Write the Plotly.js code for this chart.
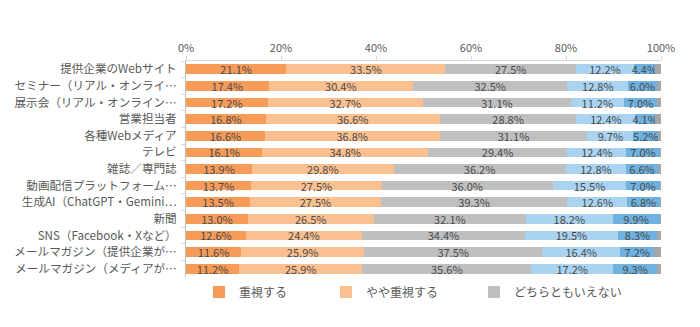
<!DOCTYPE html>
<html>
<head>
<meta charset="utf-8">
<script src="https://cdn.plot.ly/plotly-3.0.1.min.js"></script>
<style>html,body{margin:0;padding:0;background:#fff;}#chart{width:700px;height:327px;}</style>
</head>
<body>
<div id="chart"></div>
<script>
const categories = [
  "提供企業のWebサイト",
  "セミナー（リアル・オンライ…",
  "展示会（リアル・オンライン…",
  "営業担当者",
  "各種Webメディア",
  "テレビ",
  "雑誌／専門誌",
  "動画配信プラットフォーム…",
  "生成AI（ChatGPT・Gemini…",
  "新聞",
  "SNS（Facebook・Xなど）",
  "メールマガジン（提供企業が…",
  "メールマガジン（メディアが…"
];
const seriesNames = ["重視する", "やや重視する", "どちらともいえない", "あまり重視しない", "重視しない", "その他"];
const juushi      = [21.1, 17.4, 17.2, 16.8, 16.6, 16.1, 13.9, 13.7, 13.5, 13.0, 12.6, 11.6, 11.2];
const yayaJuushi  = [33.5, 30.4, 32.7, 36.6, 36.8, 34.8, 29.8, 27.5, 27.5, 26.5, 24.4, 25.9, 25.9];
const dochiramo   = [27.5, 32.5, 31.1, 28.8, 31.1, 29.4, 36.2, 36.0, 39.3, 32.1, 34.4, 37.5, 35.6];
const amari       = [12.2, 12.8, 11.2, 12.4, 9.7, 12.4, 12.8, 15.5, 12.6, 18.2, 19.5, 16.4, 17.2];
const juushiShinai= [4.4, 6.0, 7.0, 4.1, 5.2, 7.0, 6.6, 7.0, 6.8, 9.9, 8.3, 7.2, 9.3];
const sonota      = [1.3, 0.9, 0.8, 1.3, 0.6, 0.3, 0.7, 0.3, 0.3, 0.3, 0.8, 1.4, 0.8];
const tickVals = [0, 20, 40, 60, 80, 100];
const tickText = ["0%", "20%", "40%", "60%", "80%", "100%"];

const colors = ["#F79B59", "#FAC090", "#BFBFBF", "#A9D3F0", "#6FB2E0", "#A6A6A6"];
const values = [juushi, yayaJuushi, dochiramo, amari, juushiShinai, sonota];
const legends = ["legend", "legend2", "legend3"];
const FONT = "'Noto Sans CJK JP', 'Noto Sans', sans-serif";

const traces = values.map((v, i) => ({
  type: "bar",
  orientation: "h",
  name: seriesNames[i],
  x: v,
  y: categories,
  marker: {color: colors[i], line: {width: 0}},
  text: i < 5 ? v.map(d => d.toFixed(1) + "%") : undefined,
  textposition: i < 5 ? "inside" : "none",
  insidetextanchor: "middle",
  constraintext: "none",
  textfont: {family: FONT, size: 11, color: "#4A4A4A"},
  hoverinfo: "x+y+name",
  showlegend: i < 3,
  legend: i < 3 ? legends[i] : undefined
}));

const legendBase = {
  orientation: "h",
  xref: "container", yref: "container",
  yanchor: "middle", xanchor: "left",
  font: {family: FONT, size: 12, color: "#595959"},
  bgcolor: "rgba(0,0,0,0)",
  itemwidth: 30,
  tracegroupgap: 0
};

const layout = {
  width: 700, height: 327,
  margin: {l: 186, r: 39, t: 61, b: 50, pad: 0},
  barmode: "stack",
  bargap: 0.42,
  paper_bgcolor: "#fff",
  plot_bgcolor: "#fff",
  font: {family: FONT, color: "#595959"},
  xaxis: {
    side: "top",
    range: [0, 100],
    tickvals: tickVals,
    ticktext: tickText,
    showgrid: false,
    zeroline: false,
    showline: true,
    linecolor: "#D9D9D9",
    linewidth: 1,
    ticks: "outside",
    ticklen: 4,
    tickcolor: "#D9D9D9",
    tickfont: {family: FONT, size: 11, color: "#595959"},
    fixedrange: true
  },
  yaxis: {
    type: "category",
    autorange: "reversed",
    showgrid: false,
    zeroline: false,
    showline: true,
    linecolor: "#BFBFBF",
    linewidth: 1,
    ticks: "outside",
    tickson: "boundaries",
    ticklen: 4,
    tickcolor: "#D9D9D9",
    tickfont: {family: FONT, size: 11.6, color: "#595959"},
    ticklabelstandoff: 6,
    fixedrange: true
  },
  legend:  Object.assign({}, legendBase, {x: 199/700, y: 1 - 292/327}),
  legend2: Object.assign({}, legendBase, {x: 326/700, y: 1 - 292/327}),
  legend3: Object.assign({}, legendBase, {x: 474/700, y: 1 - 292/327})
};

Plotly.newPlot("chart", traces, layout, {displayModeBar: false, staticPlot: true});
</script>
</body>
</html>
